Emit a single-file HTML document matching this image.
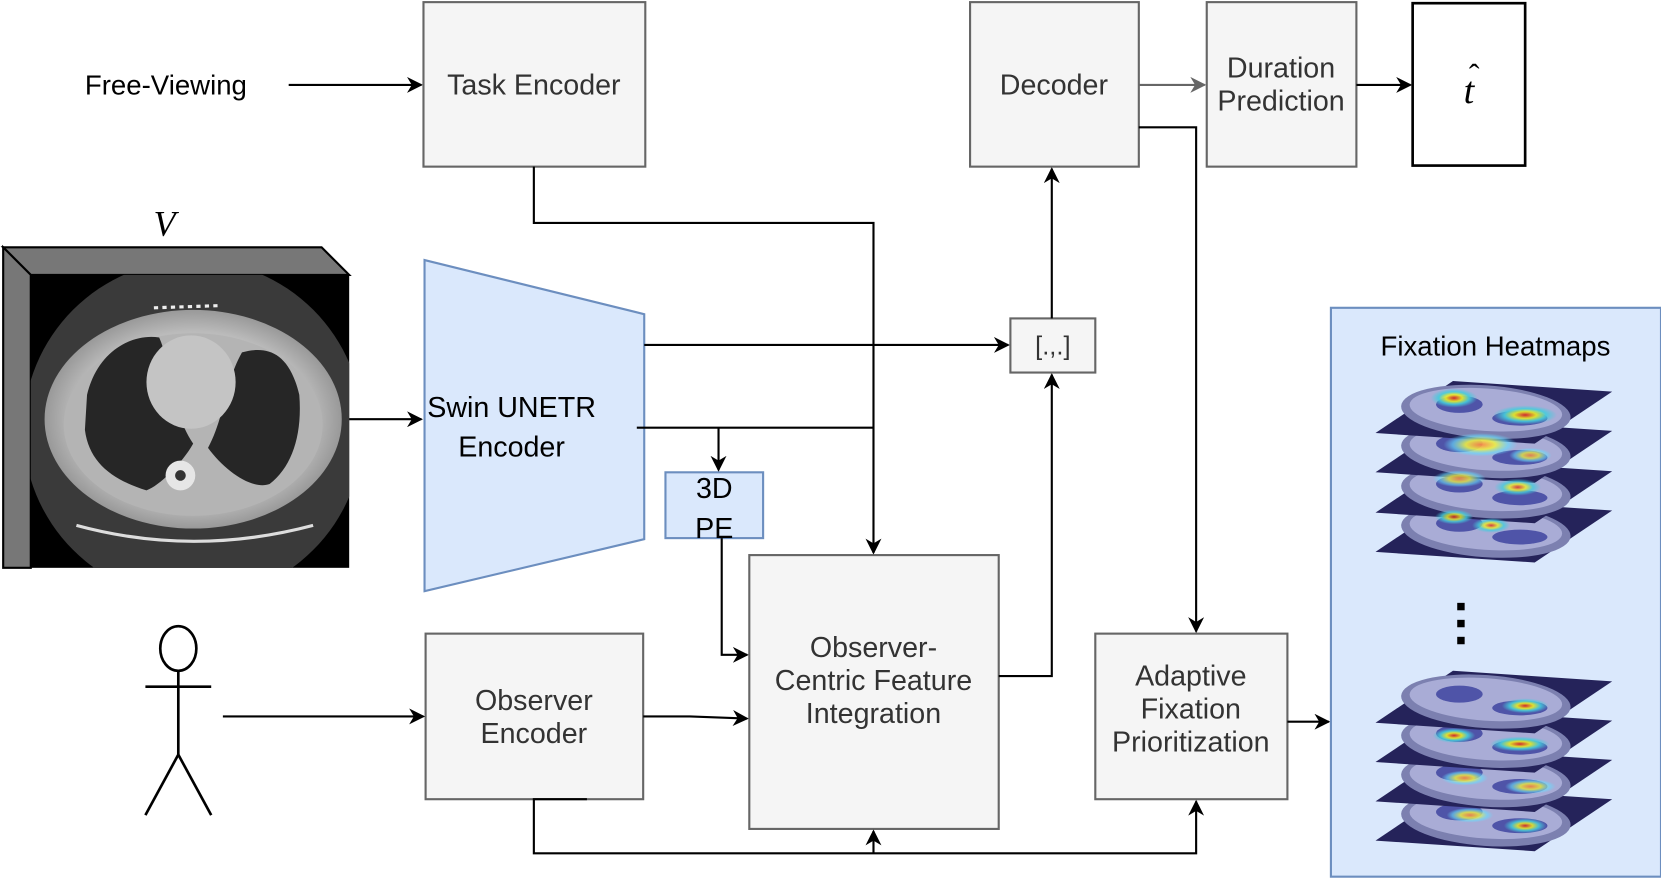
<!DOCTYPE html>
<html><head><meta charset="utf-8"><style>
html,body{margin:0;padding:0;background:#fff;}
svg{display:block;}
text{font-family:"Liberation Sans",Arial,sans-serif;}
</style></head><body>
<svg width="1661" height="882" viewBox="0 0 1565 831" xmlns="http://www.w3.org/2000/svg">
<defs>
<marker id="ar" viewBox="0 0 10 10" refX="9" refY="5" markerWidth="15" markerHeight="15" markerUnits="userSpaceOnUse" orient="auto"><path d="M0,0 L10,5 L0,10 L3,5 z" fill="#000"/></marker>
<marker id="ag" viewBox="0 0 10 10" refX="9" refY="5" markerWidth="15" markerHeight="15" markerUnits="userSpaceOnUse" orient="auto"><path d="M0,0 L10,5 L0,10 L3,5 z" fill="#666"/></marker>
<radialGradient id="hr"><stop offset="0" stop-color="#d22"/><stop offset="0.35" stop-color="#ee2"/><stop offset="0.65" stop-color="#4cd"/><stop offset="1" stop-color="#4cd" stop-opacity="0"/></radialGradient>
<radialGradient id="hy"><stop offset="0" stop-color="#f84"/><stop offset="0.4" stop-color="#ee4"/><stop offset="0.75" stop-color="#6df" stop-opacity="0.7"/><stop offset="1" stop-color="#6df" stop-opacity="0"/></radialGradient>
<radialGradient id="ct"><stop offset="0" stop-color="#d0d0d0"/><stop offset="0.8" stop-color="#bbb"/><stop offset="1" stop-color="#999"/></radialGradient>
<clipPath id="pc"><rect x="1254" y="290" width="311" height="536"/></clipPath>
<g id="layer">
<polygon points="1296,408 1369,359 1519,369 1446,418" fill="#25235a"/>
<ellipse cx="1400" cy="388" rx="80" ry="25" transform="rotate(4 1400 388)" fill="#7c80b0"/>
<ellipse cx="1400" cy="386" rx="72" ry="20" transform="rotate(4 1400 386)" fill="#a9acd6"/>
<ellipse cx="1375" cy="381" rx="22" ry="8" fill="#4f54a8"/>
<ellipse cx="1432" cy="394" rx="26" ry="7" fill="#4f54a8"/>
</g>
</defs>

<text x="80" y="89" font-size="26" fill="#000">Free-Viewing</text>
<line x1="272" y1="80" x2="397" y2="80" stroke="#000" stroke-width="2" marker-end="url(#ar)"/>

<rect x="399" y="2" width="209" height="155" fill="#f5f5f5" stroke="#666" stroke-width="2"/>
<text x="503" y="89" font-size="27" fill="#333" text-anchor="middle">Task Encoder</text>

<rect x="914" y="2" width="159" height="155" fill="#f5f5f5" stroke="#666" stroke-width="2"/>
<text x="993" y="89" font-size="27" fill="#333" text-anchor="middle">Decoder</text>

<rect x="1137" y="2" width="141" height="155" fill="#f5f5f5" stroke="#666" stroke-width="2"/>
<text x="1207" y="73" font-size="27" fill="#333" text-anchor="middle">Duration</text>
<text x="1207" y="104" font-size="27" fill="#333" text-anchor="middle">Prediction</text>

<rect x="1331" y="3" width="106" height="153" fill="#fff" stroke="#000" stroke-width="2.5"/>
<text x="1384" y="97" font-size="36" font-style="italic" text-anchor="middle" style="font-family:'Liberation Serif',serif">t</text>
<text x="1389" y="81" font-size="30" text-anchor="middle" style="font-family:'Liberation Serif',serif">ˆ</text>

<line x1="1073" y1="80" x2="1135" y2="80" stroke="#666" stroke-width="2" marker-end="url(#ag)"/>
<line x1="1278" y1="80" x2="1329" y2="80" stroke="#000" stroke-width="2" marker-end="url(#ar)"/>

<text x="155" y="222" font-size="34" font-style="italic" text-anchor="middle" style="font-family:'Liberation Serif',serif">V</text>
<polygon points="3,233 303,233 329,259 29,259" fill="#777" stroke="#000" stroke-width="2"/>
<polygon points="3,233 29,259 29,535 3,535" fill="#777" stroke="#000" stroke-width="2"/>
<rect x="29" y="259" width="300" height="276" fill="#000"/>
<clipPath id="cc"><rect x="29" y="259" width="300" height="276"/></clipPath>
<g clip-path="url(#cc)">
<circle cx="182" cy="405" r="160" fill="#3a3a3a"/>
<ellipse cx="182" cy="395" rx="140" ry="103" fill="url(#ct)"/>
<ellipse cx="182" cy="400" rx="122" ry="86" fill="#b4b4b4"/>
<path d="M82,372 C92,330 125,314 150,318 C162,345 160,385 182,418 C172,436 150,458 138,462 C106,452 84,436 80,405 Z" fill="#262626"/>
<path d="M282,372 C272,330 250,326 228,332 C212,360 212,392 196,422 C212,444 238,462 254,456 C275,440 285,410 282,372 Z" fill="#262626"/>
<ellipse cx="180" cy="360" rx="42" ry="44" fill="#c4c4c4"/>
<ellipse cx="170" cy="448" rx="14" ry="14" fill="#e6e6e6"/>
<circle cx="170" cy="448" r="5" fill="#333"/>
<path d="M72,495 Q182,525 295,495" stroke="#ddd" stroke-width="3" fill="none"/>
<path d="M145,290 L205,288" stroke="#eee" stroke-width="3" stroke-dasharray="4 4"/>
</g>
<line x1="329" y1="395" x2="397" y2="395" stroke="#000" stroke-width="2" marker-end="url(#ar)"/>

<polygon points="400,245 607,296 607,508 400,557" fill="#dae8fc" stroke="#6c8ebf" stroke-width="2"/>
<text x="482" y="393" font-size="27" fill="#000" text-anchor="middle">Swin UNETR</text>
<text x="482" y="430" font-size="27" fill="#000" text-anchor="middle">Encoder</text>

<rect x="627" y="445" width="92" height="62" fill="#dae8fc" stroke="#6c8ebf" stroke-width="2"/>
<text x="673" y="469" font-size="27" fill="#000" text-anchor="middle">3D</text>
<text x="673" y="507" font-size="27" fill="#000" text-anchor="middle">PE</text>

<rect x="952" y="300" width="80" height="51" fill="#f5f5f5" stroke="#666" stroke-width="2"/>
<text x="992" y="334" font-size="24" fill="#333" text-anchor="middle">[.,.]</text>

<rect x="706" y="523" width="235" height="258" fill="#f5f5f5" stroke="#666" stroke-width="2"/>
<text x="823" y="619" font-size="27" fill="#333" text-anchor="middle">Observer-</text>
<text x="823" y="650" font-size="27" fill="#333" text-anchor="middle">Centric Feature</text>
<text x="823" y="681" font-size="27" fill="#333" text-anchor="middle">Integration</text>

<rect x="401" y="597" width="205" height="156" fill="#f5f5f5" stroke="#666" stroke-width="2"/>
<text x="503" y="669" font-size="27" fill="#333" text-anchor="middle">Observer</text>
<text x="503" y="700" font-size="27" fill="#333" text-anchor="middle">Encoder</text>

<rect x="1032" y="597" width="181" height="156" fill="#f5f5f5" stroke="#666" stroke-width="2"/>
<text x="1122" y="646" font-size="27" fill="#333" text-anchor="middle">Adaptive</text>
<text x="1122" y="677" font-size="27" fill="#333" text-anchor="middle">Fixation</text>
<text x="1122" y="708" font-size="27" fill="#333" text-anchor="middle">Prioritization</text>

<g stroke="#000" stroke-width="2.5" fill="none">
<ellipse cx="168" cy="611" rx="17" ry="21"/>
<line x1="168" y1="632" x2="168" y2="711"/>
<line x1="137" y1="647" x2="199" y2="647"/>
<line x1="168" y1="711" x2="137" y2="768"/>
<line x1="168" y1="711" x2="199" y2="768"/>
</g>
<line x1="210" y1="675" x2="399" y2="675" stroke="#000" stroke-width="2" marker-end="url(#ar)"/>

<g stroke="#000" stroke-width="2" fill="none">
<line x1="607" y1="325" x2="950" y2="325" marker-end="url(#ar)"/>
<polyline points="600,403 823,403"/>
<polyline points="677,403 677,443" marker-end="url(#ar)"/>
<polyline points="503,157 503,210 823,210 823,521" marker-end="url(#ar)"/>
<polyline points="680,507 680,617 704,617" marker-end="url(#ar)"/>
<polyline points="606,675 650,675 704,677" marker-end="url(#ar)"/>
<polyline points="941,637 991,637 991,353" marker-end="url(#ar)"/>
<polyline points="991,300 991,159" marker-end="url(#ar)"/>
<polyline points="1073,120 1127,120 1127,595" marker-end="url(#ar)"/>
<polyline points="553,753 503,753 503,804 1127,804 1127,755" marker-end="url(#ar)"/>
<polyline points="823,804 823,783" marker-end="url(#ar)"/>
<line x1="1213" y1="680" x2="1252" y2="680" marker-end="url(#ar)"/>
</g>

<rect x="1254" y="290" width="311" height="536" fill="#dae8fc" stroke="#6c8ebf" stroke-width="2"/>
<text x="1409" y="335" font-size="26" fill="#000" text-anchor="middle">Fixation Heatmaps</text>
<g clip-path="url(#pc)">
<use href="#layer" transform="translate(0,112)"/>
<use href="#layer" transform="translate(0,75)"/>
<use href="#layer" transform="translate(0,37)"/>
<use href="#layer"/>
<ellipse cx="1370" cy="375" rx="22" ry="9" fill="url(#hr)" opacity="0.9"/>
<ellipse cx="1437" cy="391" rx="30" ry="9" fill="url(#hr)" opacity="0.9"/>
<ellipse cx="1395" cy="419" rx="35" ry="11" fill="url(#hy)" opacity="0.9"/>
<ellipse cx="1442" cy="429" rx="20" ry="7" fill="url(#hy)" opacity="0.8"/>
<ellipse cx="1375" cy="451" rx="25" ry="8" fill="url(#hy)" opacity="0.8"/>
<ellipse cx="1430" cy="459" rx="22" ry="8" fill="url(#hr)" opacity="0.8"/>
<ellipse cx="1370" cy="487" rx="18" ry="7" fill="url(#hr)" opacity="0.8"/>
<ellipse cx="1405" cy="495" rx="18" ry="7" fill="url(#hr)" opacity="0.8"/>

<use href="#layer" transform="translate(0,384)"/>
<use href="#layer" transform="translate(0,347)"/>
<use href="#layer" transform="translate(0,310)"/>
<use href="#layer" transform="translate(0,273)"/>
<ellipse cx="1437" cy="665" rx="22" ry="7" fill="url(#hr)" opacity="0.9"/>
<ellipse cx="1370" cy="693" rx="20" ry="7" fill="url(#hr)" opacity="0.9"/>
<ellipse cx="1432" cy="701" rx="28" ry="7" fill="url(#hr)" opacity="0.9"/>
<ellipse cx="1380" cy="733" rx="22" ry="7" fill="url(#hy)" opacity="0.85"/>
<ellipse cx="1442" cy="741" rx="24" ry="7" fill="url(#hy)" opacity="0.85"/>
<ellipse cx="1385" cy="768" rx="22" ry="7" fill="url(#hy)" opacity="0.85"/>
<ellipse cx="1437" cy="778" rx="20" ry="7" fill="url(#hr)" opacity="0.85"/>
</g>
<rect x="1373" y="568" width="7" height="7" fill="#000"/>
<rect x="1373" y="584" width="7" height="7" fill="#000"/>
<rect x="1373" y="600" width="7" height="7" fill="#000"/>
</svg>
</body></html>
